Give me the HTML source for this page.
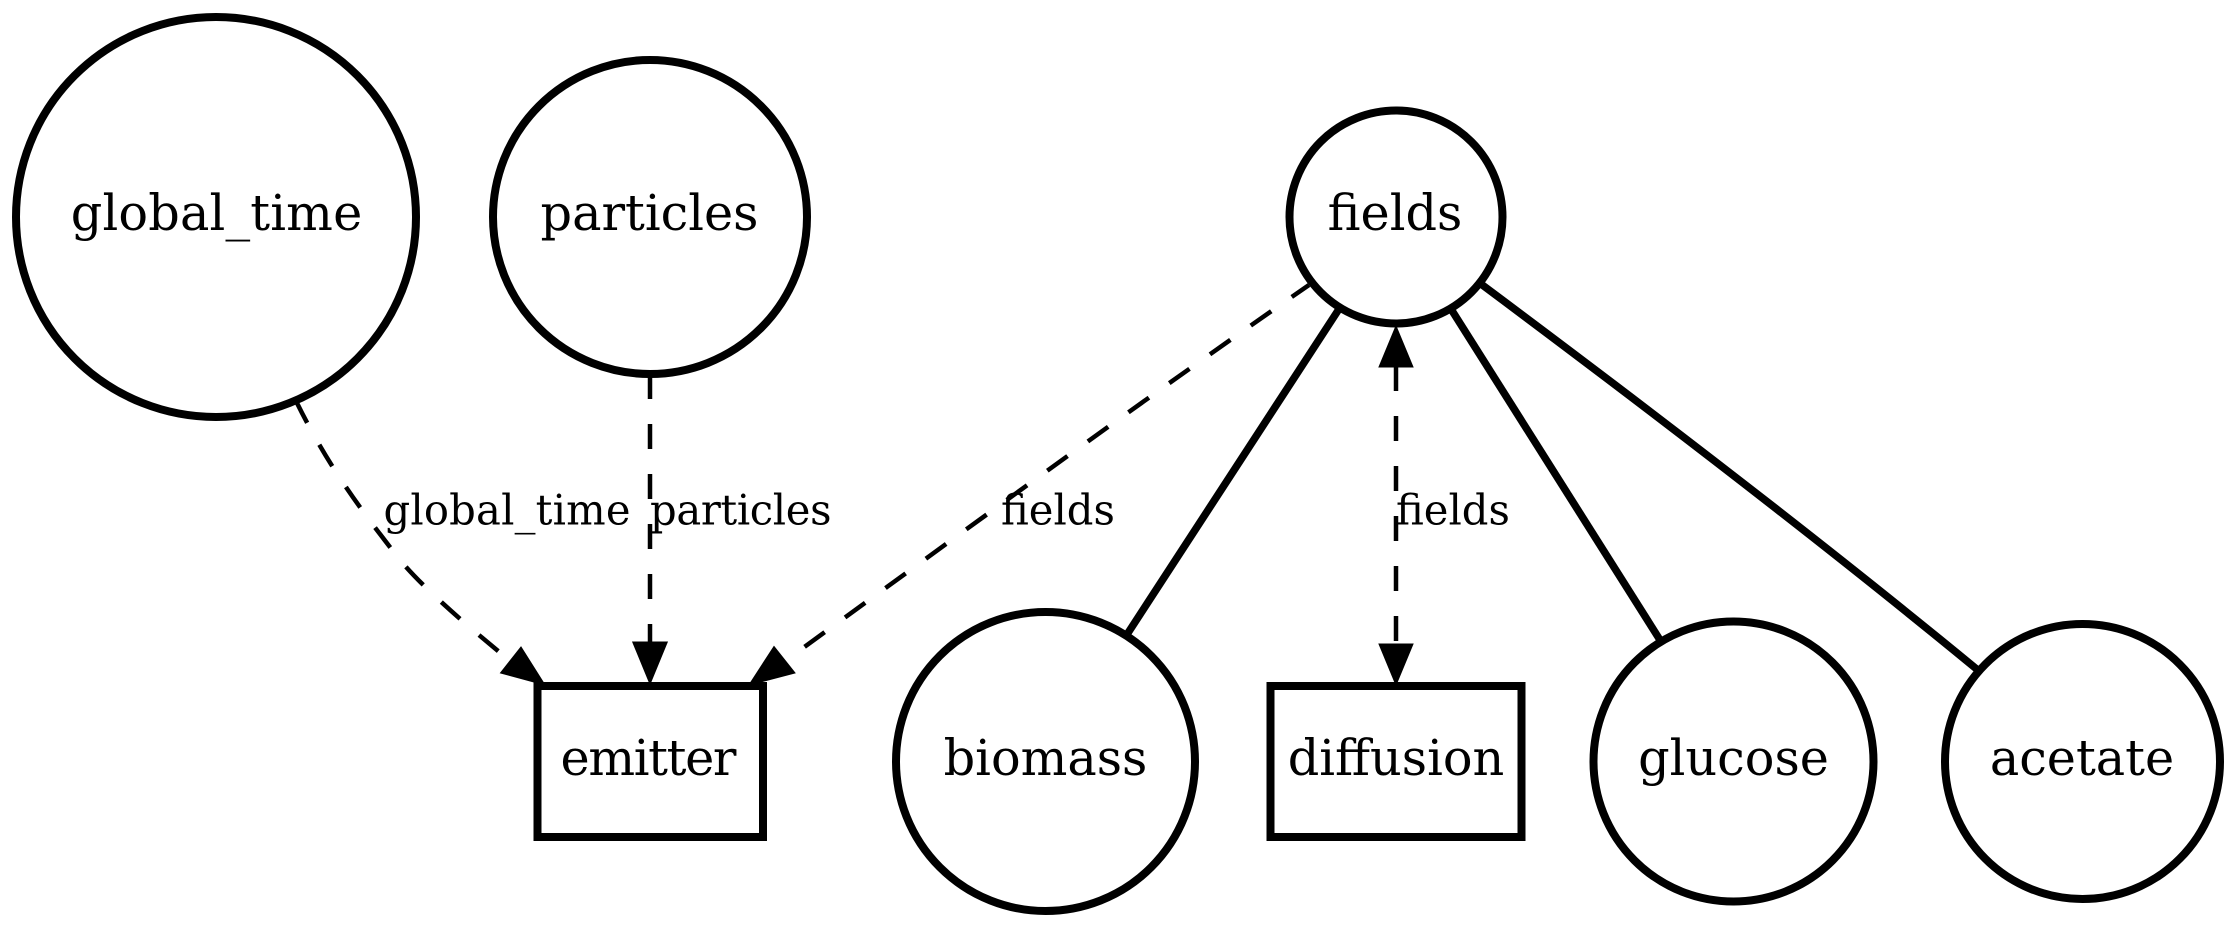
<!DOCTYPE html>
<html lang="en">
<head>
<meta charset="utf-8">
<title>Process topology graph</title>
<style>
html,body{margin:0;padding:0;background:#fff;width:2236px;height:927px;overflow:hidden}
svg{display:block}
text{font-family:"DejaVu Serif","Liberation Serif",serif;fill:#000}
.node-shape{fill:none;stroke:#000;stroke-width:8}
.node-label{font-size:49.3px;text-anchor:middle}
.edge-label{font-size:41.7px}
.dashed{fill:none;stroke:#000;stroke-width:4.5;stroke-dasharray:25 25}
.solid{fill:none;stroke:#000;stroke-width:7.5}
.arrow{fill:#000;stroke:#000;stroke-width:1}
</style>
</head>
<body>
<svg width="2236" height="927" viewBox="0 0 2236 927" xmlns="http://www.w3.org/2000/svg">
  <g>
    <path class="dashed" style="stroke-dashoffset:36" d="M509 660C470 628 425 590 400 560C365 515 330 470 297 403"/>
    <polygon class="arrow" points="545,685 500.5,673 521,647"/>
    <path class="dashed" d="M650 374L650 642"/>
    <polygon class="arrow" points="650,684 632.7,642 667.3,642"/>
    <path class="dashed" style="stroke-dashoffset:26" d="M785 661C1000 505 1150 395 1309 285"/>
    <polygon class="arrow" points="749,685 774,646.5 795,673"/>
    <path class="dashed" d="M1396 366L1396 645"/>
    <polygon class="arrow" points="1396,326 1379,367 1413,367"/>
    <polygon class="arrow" points="1396,685 1379,644 1413,644"/>
    <path class="solid" d="M1339 309L1126 636"/>
    <path class="solid" d="M1451 309L1660 640"/>
    <path class="solid" d="M1481 284C1650 410 1820 540 1979 671"/>
  </g>
  <g>
    <text class="edge-label" x="383.5" y="524.5" textLength="247">global_time</text>
    <text class="edge-label" x="650" y="524.5" textLength="181.5">particles</text>
    <text class="edge-label" x="1001" y="524.5">fields</text>
    <text class="edge-label" x="1396" y="524.5">fields</text>
  </g>
  <g>
    <g>
      <circle class="node-shape" cx="216" cy="217" r="200"/>
      <text class="node-label" x="216.5" y="230" textLength="291.5">global_time</text>
    </g>
    <g>
      <circle class="node-shape" cx="650" cy="217" r="157"/>
      <text class="node-label" x="649.5" y="230">particles</text>
    </g>
    <g>
      <circle class="node-shape" cx="1396" cy="217" r="106.5"/>
      <text class="node-label" x="1395" y="230">fields</text>
    </g>
    <g>
      <rect class="node-shape" x="537.5" y="686" width="225.5" height="151"/>
      <text class="node-label" x="648.5" y="775" textLength="176">emitter</text>
    </g>
    <g>
      <circle class="node-shape" cx="1045.5" cy="761.5" r="149.5"/>
      <text class="node-label" x="1045.5" y="775">biomass</text>
    </g>
    <g>
      <rect class="node-shape" x="1270.5" y="686" width="251" height="151"/>
      <text class="node-label" x="1396" y="775">diffusion</text>
    </g>
    <g>
      <circle class="node-shape" cx="1733.5" cy="761.5" r="140"/>
      <text class="node-label" x="1733.5" y="775">glucose</text>
    </g>
    <g>
      <circle class="node-shape" cx="2082.5" cy="761.5" r="137.5"/>
      <text class="node-label" x="2082" y="775">acetate</text>
    </g>
  </g>
</svg>
</body>
</html>
